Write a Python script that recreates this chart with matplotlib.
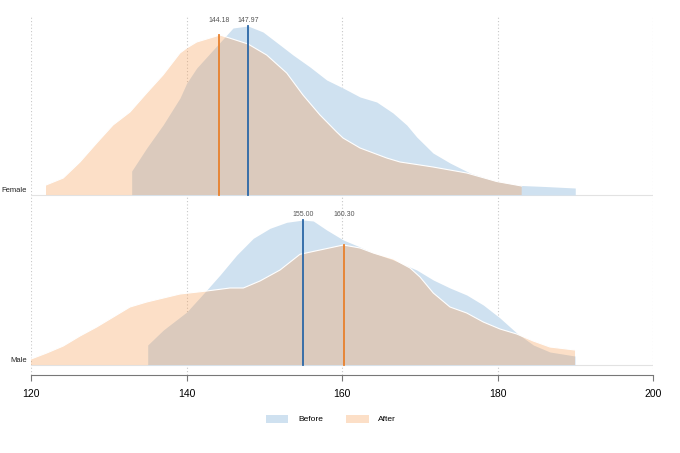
import numpy as np
import matplotlib
matplotlib.use("Agg")
from matplotlib import pyplot as plt
from matplotlib.patches import Patch

plt.rcParams['font.family'] = ['Liberation Sans', 'DejaVu Sans']

# heights of the density curves (scaled)
groups = ['Female', 'Male']

female_before_x = [132.95, 134.88, 136.98, 139.16, 140.03, 141.31, 143.41, 145.17, 145.98, 147.91,
                   149.84, 152.03, 153.70, 155.88, 158.03, 160.13, 162.32, 164.46, 166.56, 168.32,
                   169.61, 171.70, 173.89, 176.46, 179.90, 183.11, 186.10, 190.00]
female_before_y = [24, 47, 70, 97, 112, 127, 145, 160, 167, 169,
                   163, 150, 140, 128, 115, 107, 98, 93, 82, 70,
                   58, 42, 32, 22, 13.5, 9.5, 8.5, 7]

female_after_x = [121.93, 124.15, 126.30, 128.45, 130.55, 132.73, 134.88, 136.98, 139.16, 140.03,
                  141.31, 143.88, 144.31, 147.91, 150.31, 152.89, 154.98, 157.17, 159.32, 160.13,
                  162.32, 165.75, 167.46, 170.03, 171.70, 176.04, 179.90, 183.11]
female_after_y = [10, 17, 33, 52, 70, 83, 102, 120, 142, 147,
                  153, 159, 160, 151, 140, 122, 100, 80, 63, 57,
                  47, 37, 33, 30, 28, 22, 13.5, 9]

male_before_x = [135.01, 137.02, 140.03, 142.60, 144.31, 146.46, 148.59, 150.74, 152.89, 155.02,
                 156.31, 158.03, 160.17, 162.32, 164.03, 166.60, 169.61, 171.74, 173.89, 176.04,
                 178.17, 180.32, 182.47, 184.61, 186.75, 189.97]
male_before_y = [20, 35, 53, 75, 90, 110, 126.7, 136.7, 142.7, 145,
                 144, 135, 125, 118, 112, 105, 95, 85, 77, 70,
                 60, 47, 32, 20, 13, 9]

male_after_x = [120.00, 122.02, 124.15, 126.30, 128.45, 130.59, 132.73, 134.88, 137.02, 139.16,
                142.60, 145.59, 147.31, 149.45, 152.03, 154.60, 157.17, 160.17, 162.32, 164.03,
                166.60, 168.75, 170.03, 171.74, 173.89, 176.04, 178.17, 180.32, 182.47, 184.61,
                186.75, 189.97]
male_after_y = [6, 12, 19, 29, 38, 48, 58, 63, 67, 71,
                74, 77, 77, 84, 95, 110.7, 115, 120, 117, 112,
                106, 97, 88, 72, 58, 52, 43, 36, 31, 24,
                18, 15]

female_means = [147.97, 144.18]   # before, after
male_means = [155.00, 160.30]

series = ['Before', 'After']
fill_colors = ['#cfe1f0', '#f89848']
fill_alpha = [1.0, 0.3]
line_colors = ['#2b67a6', '#e8802c']

rows = [
    (female_before_x, female_before_y, female_after_x, female_after_y, female_means, 170),
    (male_before_x, male_before_y, male_after_x, male_after_y, male_means, 0),
]

fig = plt.figure(figsize=(6.8, 4.53), dpi=100)
ax = fig.add_axes([31 / 680, 78 / 453, 622 / 680, 359 / 453])

for name, (bx, by, axx, ayy, means, base) in zip(groups, rows):
    bx, by, axx, ayy = map(np.array, (bx, by, axx, ayy))
    ax.axhline(base, color='#e2e2e2', lw=0.8, zorder=1)
    ax.fill_between(bx, base, base + by, color=fill_colors[0], alpha=fill_alpha[0],
                    lw=0, zorder=2)
    ax.fill_between(axx, base, base + ayy, facecolor=fill_colors[1], alpha=fill_alpha[1],
                    edgecolor='none', zorder=3)
    ax.plot(axx, base + ayy, color='white', lw=0.8, zorder=3.5)
    top = max(by.max(), ayy.max())
    for m, xs, ys, c in zip(means, (bx, axx), (by, ayy), line_colors):
        h = np.interp(m, xs, ys)
        ax.plot([m, m], [base, base + h], color=c, lw=1.3, zorder=4)
        ax.text(m, base + top + 6, f"{m:.2f}", ha='center', va='center',
                fontsize=5, color='#555555')
    ax.text(119.5, base + 5, name, ha='right', va='center', fontsize=5.5, color='#222222')

ax.set_xlim(120, 200)
ax.set_ylim(-10, 349)
ax.set_xticks([120, 140, 160, 180, 200])
ax.grid(axis='x', linestyle=(0, (1, 2)), color='#c8c8c8', lw=0.8)
ax.set_axisbelow(True)
ax.set_yticks([])
for s in ['left', 'top', 'right']:
    ax.spines[s].set_visible(False)
ax.spines['bottom'].set_color('#777777')
ax.tick_params(axis='x', colors='#777777', length=4, width=0.8, labelsize=7.5,
               labelcolor='black', pad=6)

handles = [Patch(facecolor=fill_colors[0], alpha=fill_alpha[0], edgecolor='none'),
           Patch(facecolor=fill_colors[1], alpha=fill_alpha[1], edgecolor='none')]
fig.legend(handles, series, loc='center', bbox_to_anchor=(331 / 680, 1 - 419 / 453), ncol=2,
           frameon=False, fontsize=6, handlelength=2.7, handleheight=1.08,
           handletextpad=1.16, columnspacing=2.8)

fig.savefig('out.png', dpi=100)
